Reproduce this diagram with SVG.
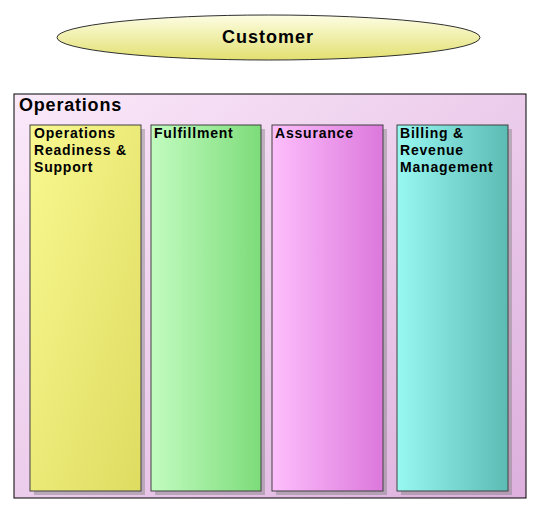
<svg xmlns="http://www.w3.org/2000/svg" width="540" height="514" viewBox="0 0 540 514">
<defs>
<linearGradient id="gEll" x1="0" y1="0" x2="0" y2="1"><stop offset="0" stop-color="#fdfde4"/><stop offset="1" stop-color="#e2e070"/></linearGradient>
<linearGradient id="gOps" x1="0" y1="0" x2="1" y2="1"><stop offset="0" stop-color="#fbe9fa"/><stop offset="1" stop-color="#ddb0dd"/></linearGradient>
<linearGradient id="gY" x1="0" y1="0" x2="1" y2="1"><stop offset="0" stop-color="#f9f890"/><stop offset="1" stop-color="#dedc60"/></linearGradient>
<linearGradient id="gG" x1="0" y1="0" x2="1" y2="0"><stop offset="0" stop-color="#c2fcc0"/><stop offset="1" stop-color="#7ddc7a"/></linearGradient>
<linearGradient id="gP" x1="0" y1="0" x2="1" y2="0"><stop offset="0" stop-color="#fdbffc"/><stop offset="1" stop-color="#dc78dc"/></linearGradient>
<linearGradient id="gT" x1="0" y1="0" x2="1" y2="0"><stop offset="0" stop-color="#98f8f2"/><stop offset="1" stop-color="#5cbcb4"/></linearGradient>
</defs>
<style>
text{font-family:"Liberation Sans",Arial,sans-serif;font-weight:bold;fill:#000}
.lbl{font-size:14px;letter-spacing:0.8px}
.box{stroke:#404040;stroke-width:1}
.sh{fill:#808080;fill-opacity:0.45}
</style>
<g id="customer">
<ellipse cx="268.5" cy="37.5" rx="211.5" ry="22.5" fill="url(#gEll)" stroke="#303030" stroke-width="1"/>
<text x="268" y="43" font-size="18" letter-spacing="1" text-anchor="middle">Customer</text>
</g>
<g id="operations">
<rect x="14" y="94" width="512" height="404" fill="url(#gOps)" stroke="#000" stroke-width="1"/>
<text x="19" y="111" font-size="18" letter-spacing="0.8">Operations</text>
</g>
<g id="ors">
<rect class="sh" x="34" y="129" width="111" height="366"/>
<rect class="box" x="30" y="125" width="111" height="366" fill="url(#gY)"/>
<text class="lbl" x="34" y="138">Operations</text>
<text class="lbl" x="34" y="155">Readiness &amp;</text>
<text class="lbl" x="34" y="172">Support</text>
</g>
<g id="fulfillment">
<rect class="sh" x="155" y="129" width="110" height="366"/>
<rect class="box" x="151" y="125" width="110" height="366" fill="url(#gG)"/>
<text class="lbl" x="154" y="138">Fulfillment</text>
</g>
<g id="assurance">
<rect class="sh" x="276" y="129" width="111" height="366"/>
<rect class="box" x="272" y="125" width="111" height="366" fill="url(#gP)"/>
<text class="lbl" x="275" y="138">Assurance</text>
</g>
<g id="billing">
<rect class="sh" x="401" y="129" width="111" height="366"/>
<rect class="box" x="397" y="125" width="111" height="366" fill="url(#gT)"/>
<text class="lbl" x="400" y="138">Billing &amp;</text>
<text class="lbl" x="400" y="155">Revenue</text>
<text class="lbl" x="400" y="172">Management</text>
</g>
<g id="connectors"></g>
</svg>
